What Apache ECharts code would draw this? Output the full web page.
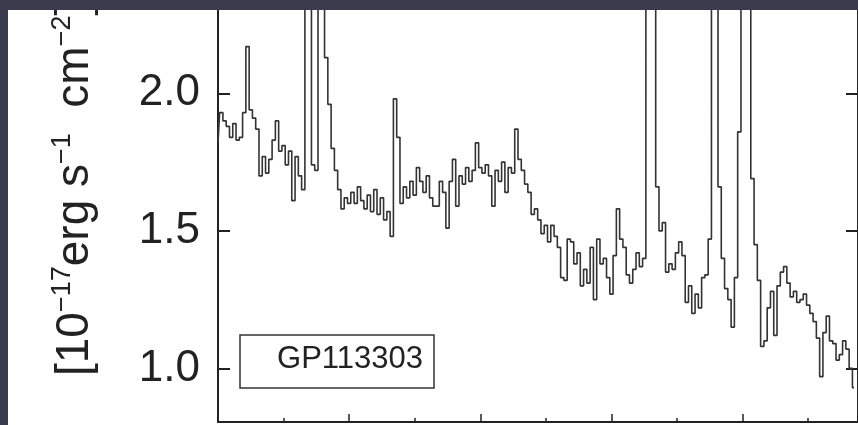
<!DOCTYPE html>
<html>
<head>
<meta charset="utf-8">
<script src="https://cdn.jsdelivr.net/npm/echarts@6/dist/echarts.min.js"></script>
<style>
  html, body { margin: 0; padding: 0; width: 858px; height: 425px; overflow: hidden; background: #3a3c4d; }
  #chart { position: absolute; left: 8px; top: 10px; width: 850px; height: 415px; background: #ffffff; }
</style>
</head>
<body>
<div id="chart"></div>
<script>
// Spectrum of GP113303: flux density per pixel, uniformly sampled in wavelength
const objectName = 'GP113303';
const lambdaStart = 4700;   // Å, first pixel
const lambdaStep = 2.5;     // Å per pixel
const flux = [
  1.82, 1.93, 1.90, 1.88, 1.84, 1.89, 1.83, 1.84, 1.93, 2.17,
  1.94, 1.91, 1.87, 1.70, 1.77, 1.71, 1.76, 1.83, 1.90, 1.79,
  1.81, 1.74, 1.79, 1.61, 1.77, 1.70, 1.65, 3.20, 3.00, 1.74,
  1.72, 4.00, 4.50, 2.13, 1.96, 1.80, 1.72, 1.65, 1.58, 1.62,
  1.60, 1.64, 1.60, 1.66, 1.61, 1.58, 1.63, 1.57, 1.65, 1.56,
  1.62, 1.54, 1.57, 1.48, 1.98, 1.84, 1.60, 1.66, 1.62, 1.68,
  1.63, 1.73, 1.68, 1.64, 1.70, 1.62, 1.59, 1.59, 1.68, 1.64,
  1.51, 1.68, 1.76, 1.59, 1.70, 1.67, 1.73, 1.68, 1.72, 1.82,
  1.73, 1.71, 1.74, 1.70, 1.59, 1.72, 1.68, 1.75, 1.64, 1.73,
  1.71, 1.87, 1.76, 1.72, 1.67, 1.64, 1.56, 1.58, 1.54, 1.49,
  1.52, 1.46, 1.52, 1.48, 1.44, 1.33, 1.32, 1.47, 1.46, 1.38,
  1.42, 1.30, 1.36, 1.31, 1.44, 1.25, 1.47, 1.38, 1.40, 1.33,
  1.27, 1.41, 1.58, 1.47, 1.44, 1.34, 1.31, 1.36, 1.42, 1.37,
  1.40, 3.50, 4.00, 3.00, 1.66, 1.50, 1.53, 1.35, 1.38, 1.36,
  1.42, 1.46, 1.41, 1.24, 1.30, 1.20, 1.27, 1.22, 1.33, 1.34,
  1.47, 2.90, 3.50, 1.66, 1.40, 1.29, 1.25, 1.15, 1.33, 1.86,
  3.20, 3.50, 2.60, 1.69, 1.45, 1.32, 1.08, 1.10, 1.22, 1.28,
  1.12, 1.30, 1.35, 1.37, 1.31, 1.26, 1.28, 1.24, 1.25, 1.27,
  1.23, 1.20, 1.17, 1.11, 0.97, 1.13, 1.19, 1.10, 1.09, 1.03,
  1.05, 1.10, 1.07, 1.00, 0.93
];
const fluxTicks = [1.0, 1.5, 2.0];
const fluxRange = [0.805, 2.303];
const lambdaRange = [4700, 5188];

const spectrum = flux.map((f, i) => [lambdaStart + i * lambdaStep, f]);

const ink = '#222222';
const labelFont = 'Liberation Sans';

const chart = echarts.init(document.getElementById('chart'), null, { renderer: 'canvas' });

const fluxAxisBase = {
  type: 'value',
  min: fluxRange[0],
  max: fluxRange[1],
  splitLine: { show: false },
  axisLine: { show: true, lineStyle: { color: ink, width: 2 } },
  axisTick: { show: true, inside: true, length: 12, lineStyle: { color: ink, width: 2 }, customValues: fluxTicks }
};

chart.setOption({
  animation: false,
  backgroundColor: '#ffffff',
  grid: { left: 210, right: -4, top: 0, bottom: 3, containLabel: false },
  xAxis: {
    type: 'value',
    min: lambdaRange[0],
    max: lambdaRange[1],
    interval: 100,
    axisLine: { show: true, lineStyle: { color: ink, width: 2 } },
    axisTick: { show: true, inside: true, length: 8, lineStyle: { color: ink, width: 1.5 } },
    minorTick: { show: true, splitNumber: 2, length: 4, lineStyle: { color: ink, width: 1.5 } },
    axisLabel: { show: false },
    splitLine: { show: false }
  },
  yAxis: [
    Object.assign({}, fluxAxisBase, {
      position: 'left',
      axisLabel: {
        show: true,
        customValues: fluxTicks,
        formatter: v => v.toFixed(1),
        fontFamily: labelFont,
        fontSize: 44,
        color: ink,
        margin: 18
      }
    }),
    Object.assign({}, fluxAxisBase, {
      position: 'right',
      axisLabel: { show: false }
    })
  ],
  series: [{
    type: 'line',
    name: objectName,
    data: spectrum,
    step: 'middle',
    showSymbol: false,
    clip: true,
    lineStyle: { color: '#333333', width: 1.6 },
    yAxisIndex: 0
  }],
  graphic: [
    {
      type: 'text',
      x: 67,
      y: 366,
      rotation: Math.PI / 2,
      style: {
        text: '{m|[10}{s|\u221217}{m|erg s}{s|\u22121}{m|  cm}{s|\u22122}{m|]}',
        textAlign: 'left',
        textVerticalAlign: 'middle',
        fill: ink,
        rich: {
          m: { fontFamily: labelFont, fontSize: 46, fill: ink, lineHeight: 52 },
          s: { fontFamily: labelFont, fontSize: 27, fill: ink, verticalAlign: 'top', lineHeight: 52 }
        }
      }
    },
    {
      type: 'rect',
      shape: { x: 232, y: 325, width: 194, height: 53 },
      style: { fill: '#ffffff', stroke: '#333333', lineWidth: 1.5 }
    },
    {
      type: 'text',
      x: 415,
      y: 349,
      style: {
        text: objectName,
        textAlign: 'right',
        textVerticalAlign: 'middle',
        fontFamily: labelFont,
        fontSize: 31,
        fill: ink
      }
    }
  ]
});
</script>
</body>
</html>
